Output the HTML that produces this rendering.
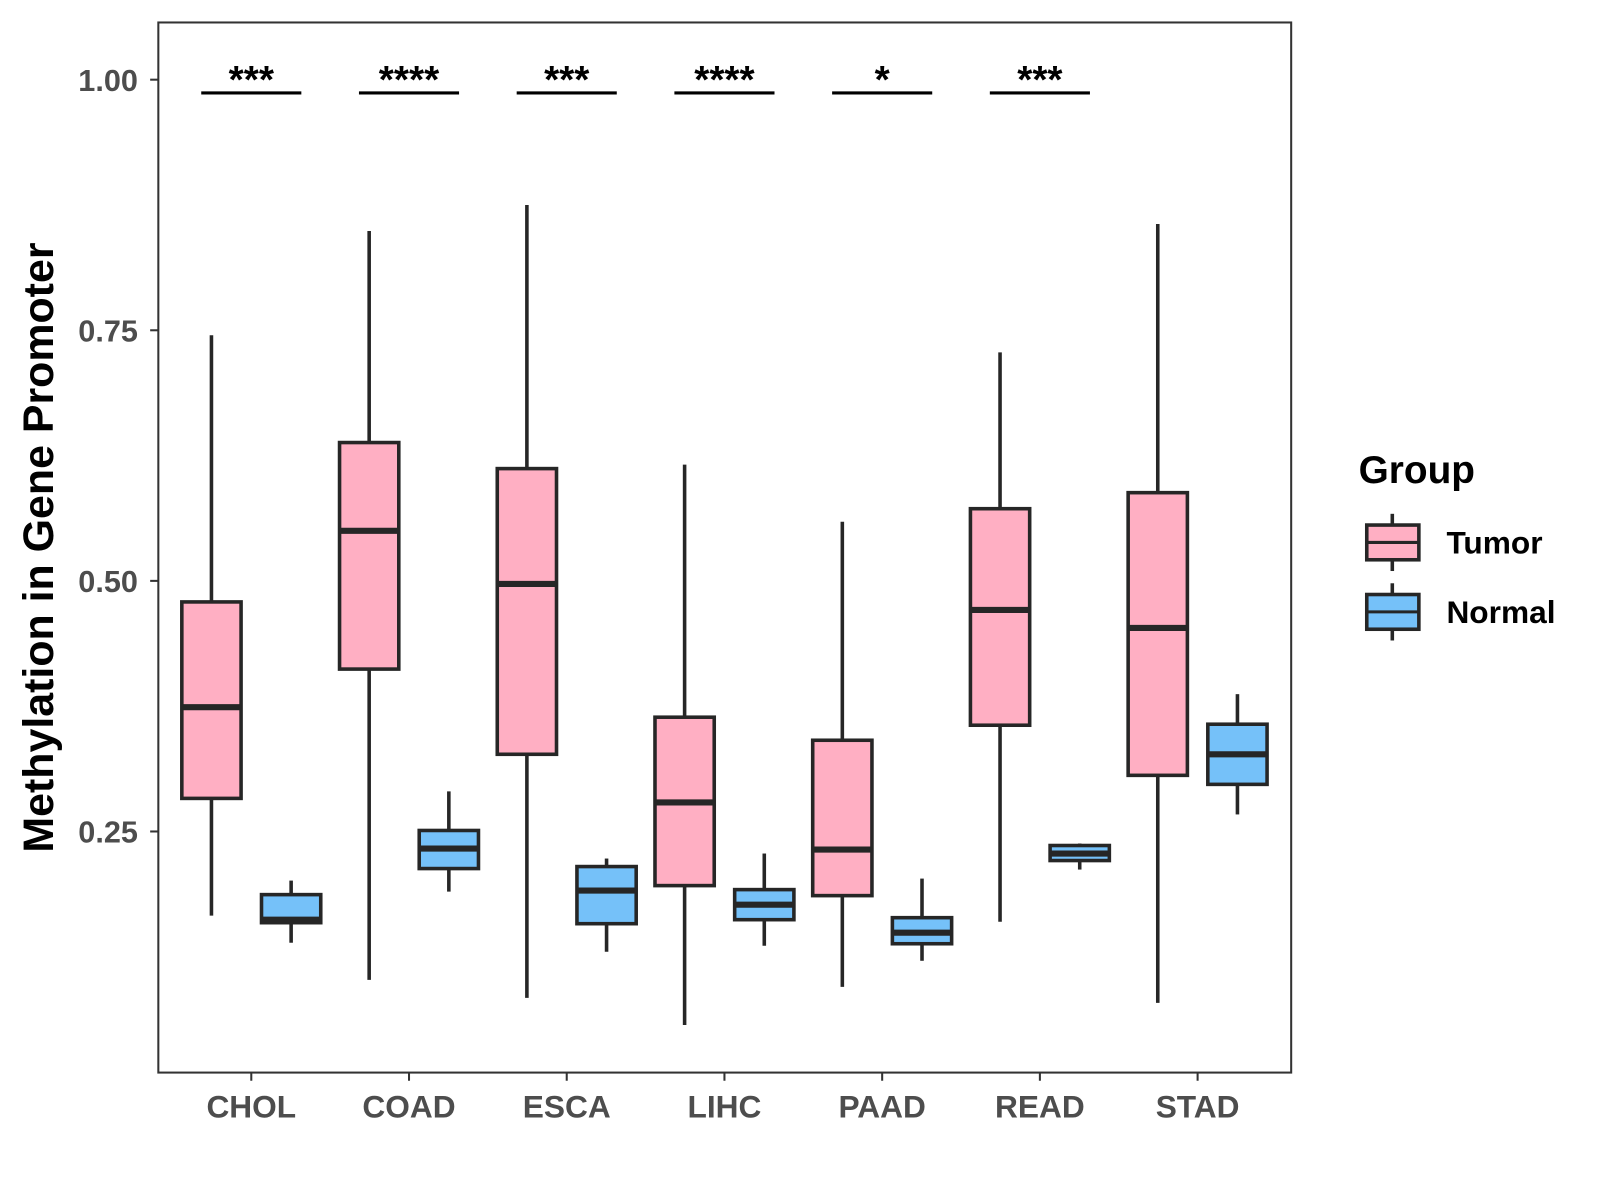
<!DOCTYPE html>
<html><head><meta charset="utf-8"><style>
html,body{margin:0;padding:0;background:#fff;width:1600px;height:1200px;overflow:hidden}
svg text{font-family:"Liberation Sans",Arial,sans-serif;font-weight:bold}
</style></head><body>
<svg id="chart" width="1600" height="1200" viewBox="0 0 1600 1200" xmlns="http://www.w3.org/2000/svg"><g id="root" transform="scale(1.0215)"></g></svg>
<script>
const categories=["CHOL","COAD","ESCA","LIHC","PAAD","READ","STAD"];
// [lowWhisker, Q1, median, Q3, highWhisker]
const tumorStats=[[0.166,0.283,0.374,0.479,0.745],[0.102,0.412,0.550,0.638,0.849],[0.084,0.327,0.497,0.612,0.875],[0.057,0.196,0.279,0.364,0.616],[0.095,0.186,0.232,0.341,0.559],[0.160,0.356,0.471,0.572,0.728],[0.079,0.306,0.453,0.588,0.856]];
const normalStats=[[0.139,0.159,0.162,0.187,0.201],[0.190,0.213,0.233,0.251,0.290],[0.130,0.158,0.191,0.215,0.223],[0.136,0.162,0.177,0.192,0.228],[0.121,0.138,0.149,0.164,0.203],[0.212,0.221,0.228,0.236,0.238],[0.267,0.297,0.327,0.357,0.387]];
const sigLabels=["***","****","***","****","*","***",""];
const yTicks=[0.25,0.50,0.75,1.00];
const yTickLabels=["0.25","0.50","0.75","1.00"];

const svg=document.getElementById('root');
const NS="http://www.w3.org/2000/svg";
const L=155,T=22,R=1264,B=1050;
function yScale(v){return 78+(1-v)*981.3;}
function xScale(i){return 246+i*154.4;}
function mk(tag,attrs,parent){const e=document.createElementNS(NS,tag);for(const k in attrs)e.setAttribute(k,attrs[k]);(parent||svg).appendChild(e);return e;}
const S="#262626";
const panel=mk('rect',{x:L,y:T,width:R-L,height:B-T,fill:'#fff',stroke:'#333',"stroke-width":2});



yTicks.forEach((v,i)=>{
  const y=yScale(v);
  const t=mk('line',{x1:L-8,x2:L,y1:y,y2:y,stroke:'#333',"stroke-width":2});
  
  
  const tx=mk('text',{x:L-20,y:y+11,"text-anchor":"end","font-size":30,fill:'#4d4d4d'});
  tx.textContent=yTickLabels[i];
  
  
});
categories.forEach((c,i)=>{
  const x=xScale(i);
  const t=mk('line',{x1:x,x2:x,y1:B,y2:B+8,stroke:'#333',"stroke-width":2});
  
  
  const tx=mk('text',{x:x,y:1094,"text-anchor":"middle","font-size":31,fill:'#4d4d4d'});
  tx.textContent=c;
  
  
});
function box(cx,s,fill,name){
  const g=mk('g',{});
  
  
  const w=58;
  mk('line',{x1:cx,x2:cx,y1:yScale(s[4]),y2:yScale(s[3]),stroke:S,"stroke-width":3.5},g);
  mk('line',{x1:cx,x2:cx,y1:yScale(s[1]),y2:yScale(s[0]),stroke:S,"stroke-width":3.5},g);
  mk('rect',{x:cx-w/2,y:yScale(s[3]),width:w,height:yScale(s[1])-yScale(s[3]),fill:fill,stroke:S,"stroke-width":3.5},g);
  mk('line',{x1:cx-w/2,x2:cx+w/2,y1:yScale(s[2]),y2:yScale(s[2]),stroke:S,"stroke-width":6},g);
}
categories.forEach((c,i)=>{
  const x=xScale(i);
  box(x-39,tumorStats[i],'#FFAFC3','box-tumor-'+c.toLowerCase());
  box(x+39,normalStats[i],'#75C1F9','box-normal-'+c.toLowerCase());
  if(sigLabels[i]){
    const l=mk('line',{x1:x-49,x2:x+49,y1:91,y2:91,stroke:'#000',"stroke-width":3});
    
    
    const t=mk('text',{x:x,y:91,"text-anchor":"middle","font-size":38,fill:'#000'});
    t.textContent=sigLabels[i];
    
    
  }
});
const yt=mk('text',{x:0,y:0,"text-anchor":"middle","font-size":42,fill:'#000',transform:'translate(52,536) rotate(-90)'});
yt.textContent='Methylation in Gene Promoter';


const lt=mk('text',{x:1330,y:473,"font-size":38,fill:'#000'});
lt.textContent='Group';


[['Tumor','#FFAFC3',531],['Normal','#75C1F9',599]].forEach(([n,f,cy])=>{
  const g=mk('g',{});
  
  
  mk('line',{x1:1363,x2:1363,y1:cy-28,y2:cy+28,stroke:S,"stroke-width":3.5},g);
  mk('rect',{x:1338,y:cy-17,width:51,height:34,fill:f,stroke:S,"stroke-width":3.5},g);
  mk('line',{x1:1338,x2:1389,y1:cy,y2:cy,stroke:S,"stroke-width":3},g);
  const t=mk('text',{x:1416,y:cy+11,"font-size":31,fill:'#000'},g);
  t.textContent=n;
});
</script>
</body></html>
